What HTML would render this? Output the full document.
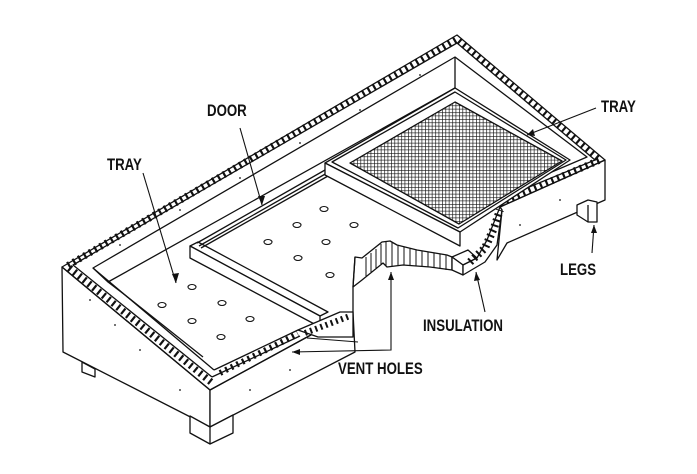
<!DOCTYPE html>
<html><head><style>
html,body{margin:0;padding:0;background:#fff;}
svg{display:block}
text{font-family:"Liberation Sans",sans-serif;font-size:17px;font-weight:bold;fill:#111;}
</style></head><body>
<svg width="697" height="474" viewBox="0 0 697 474" xmlns="http://www.w3.org/2000/svg">
<defs>
<pattern id="mesh" width="3.4" height="3.4" patternUnits="userSpaceOnUse">
<rect width="3.4" height="3.4" fill="#fff"/>
<path d="M0 0H3.4M0 0V3.4" stroke="#111" stroke-width="1.3"/>
</pattern>
</defs>
<g fill="none" stroke="#111" stroke-width="1.3" stroke-linejoin="round">
<polygon points="62,267 210,390 210,427 63,352" fill="#fff"/>
<polygon points="210,390 353,312 355,352 210,427" fill="#fff"/>
<polygon points="500,207 605,160 605,200 507,243 497,260 502,210" fill="#fff"/>
<polygon points="82,362 95,369 95,377 82,372" fill="#fff"/>
<polygon points="190,416 210,427 233,415 233,433 210,444 190,433" fill="#fff"/>
<line x1="210" y1="427" x2="210" y2="444"/>
<polygon points="577,205 588,200 597,202 597,222 588,222 577,215" fill="#fff"/>
<line x1="588" y1="205" x2="588" y2="222"/>
<polyline points="210,390 62,267 457,35 605,160 500,207"/>
<polyline points="212,377 73,265 457,43 595,160 500,199"/>
<polyline points="214,370 93,268 455,57 587,157 498,195"/>
<line x1="210" y1="390" x2="353" y2="312"/>
<line x1="214" y1="370" x2="298" y2="330"/>
<line x1="212" y1="377" x2="300" y2="336"/>
<polyline points="211,382 67,266 457,39 600,160 500,203" stroke-width="7" stroke-dasharray="2.2 4"/>
<line x1="220" y1="373" x2="298" y2="334" stroke-width="6" stroke-dasharray="2.2 4"/>
<line x1="455" y1="57" x2="455" y2="88"/>
<polyline points="93,268 108,282 455,88"/>
<line x1="108" y1="282" x2="125" y2="295"/>
<line x1="125" y1="295" x2="203" y2="357"/>
<line x1="455" y1="88" x2="567" y2="160"/>
<polygon points="190,246 198,242 328,312 320,316" fill="#fff"/>
<polygon points="190,246 320,316 320,327 190,258" fill="#fff"/>
<line x1="197" y1="243" x2="325" y2="170"/>
<line x1="199" y1="246" x2="327" y2="173"/>
<line x1="201" y1="248" x2="328" y2="176"/>
<polygon points="325,163 455,88 570,160 460,232" fill="#fff"/>
<polygon points="332,162 455,92 566,160 458,228" fill="#fff"/>
<polygon points="350,163 455,102 562,161 459,224" fill="url(#mesh)"/>
<polygon points="325,163 460,232 460,246 325,175" fill="#fff"/>
<polygon points="298,330 340,312 353,312 353,337 318,337" fill="#fff"/>
<line x1="305" y1="333" x2="350" y2="316" stroke-width="6" stroke-dasharray="2 3.5"/>
<polygon points="355,257 362,258 382,242 390,241 397,245 417,250 447,255 452,257 452,270 430,267 403,265 387,267 383,263 362,280 353,287" fill="#fff"/>
<g stroke-width="1">
<line x1="366" y1="257" x2="366" y2="276"/><line x1="371" y1="253" x2="371" y2="272"/><line x1="376" y1="249" x2="376" y2="268"/>
<line x1="381" y1="244" x2="381" y2="264"/><line x1="386" y1="242" x2="386" y2="266"/><line x1="392" y1="242" x2="392" y2="266"/>
<line x1="398" y1="245" x2="398" y2="265"/><line x1="404" y1="247" x2="404" y2="265"/><line x1="410" y1="248" x2="410" y2="265"/>
<line x1="416" y1="250" x2="416" y2="266"/><line x1="422" y1="251" x2="422" y2="266"/><line x1="428" y1="252" x2="428" y2="267"/>
<line x1="434" y1="253" x2="434" y2="268"/><line x1="440" y1="254" x2="440" y2="269"/><line x1="446" y1="255" x2="446" y2="270"/>
</g>
<line x1="353" y1="287" x2="353" y2="312"/>
<line x1="355" y1="257" x2="353" y2="287"/>
<polygon points="452,257 468,250 477,258 463,265" fill="#fff"/>
<polygon points="452,257 463,265 463,275 452,270" fill="#fff"/>
<polygon points="463,265 477,258 487,240 500,207 502,210 497,245 485,262 463,275" fill="#fff"/>
<polyline points="470,262 485,248 494,228 500,210" stroke-width="8" stroke-dasharray="2 3.5"/>
</g>
<g fill="#111">
<circle cx="120" cy="245" r="0.9"/><circle cx="180" cy="210" r="0.9"/><circle cx="240" cy="178" r="0.9"/><circle cx="300" cy="143" r="0.9"/><circle cx="360" cy="110" r="0.9"/><circle cx="420" cy="75" r="0.9"/>
<circle cx="90" cy="300" r="0.9"/><circle cx="115" cy="325" r="0.9"/><circle cx="140" cy="350" r="0.9"/><circle cx="180" cy="390" r="0.9"/>
<circle cx="520" cy="225" r="0.9"/><circle cx="560" cy="200" r="0.9"/><circle cx="250" cy="390" r="0.9"/><circle cx="290" cy="370" r="0.9"/>
</g>
<g fill="#fff" stroke="#111" stroke-width="1.1">
<ellipse cx="192" cy="287" rx="4" ry="2.5"/><ellipse cx="162" cy="305" rx="4" ry="2.5"/><ellipse cx="222" cy="303" rx="4" ry="2.5"/>
<ellipse cx="192" cy="321" rx="4" ry="2.5"/><ellipse cx="250" cy="319" rx="4" ry="2.5"/><ellipse cx="221" cy="337" rx="4" ry="2.5"/>
<ellipse cx="324" cy="209" rx="4" ry="2.5"/><ellipse cx="297" cy="225" rx="4" ry="2.5"/><ellipse cx="354" cy="225" rx="4" ry="2.5"/>
<ellipse cx="268" cy="242" rx="4" ry="2.5"/><ellipse cx="326" cy="242" rx="4" ry="2.5"/><ellipse cx="298" cy="258" rx="4" ry="2.5"/>
<ellipse cx="330" cy="275" rx="4" ry="2.5"/>
</g>
<g stroke="#111" stroke-width="1.1" fill="none">
<line x1="240" y1="128" x2="262" y2="205"/>
<line x1="143" y1="173" x2="176" y2="283"/>
<line x1="596" y1="108" x2="527" y2="135"/>
<line x1="592" y1="253" x2="594" y2="225"/>
<line x1="485" y1="312" x2="476" y2="272"/>
<polyline points="292,352 391,350 391,272"/>
<line x1="307" y1="338" x2="358" y2="342"/>
</g>
<g fill="#111">
<polygon points="176,283 172,274 179,273"/>
<polygon points="262,205 258,196 265,196"/>
<polygon points="527,135 533,129 535,136"/>
<polygon points="594,225 591,233 597,233"/>
<polygon points="476,272 474,281 480,280"/>
<polygon points="391,272 388,280 394,280"/>
<polygon points="292,352 300,349 300,355"/>
</g>
<g>
<text x="207" y="116" transform="translate(207 0) scale(0.78 1) translate(-207 0)">DOOR</text>
<text x="107" y="170" transform="translate(107 0) scale(0.78 1) translate(-107 0)">TRAY</text>
<text x="601" y="112" transform="translate(601 0) scale(0.78 1) translate(-601 0)">TRAY</text>
<text x="560" y="275" transform="translate(560 0) scale(0.78 1) translate(-560 0)">LEGS</text>
<text x="423" y="331" transform="translate(423 0) scale(0.78 1) translate(-423 0)">INSULATION</text>
<text x="338" y="374" transform="translate(338 0) scale(0.78 1) translate(-338 0)">VENT HOLES</text>
</g>
</svg>
</body></html>
